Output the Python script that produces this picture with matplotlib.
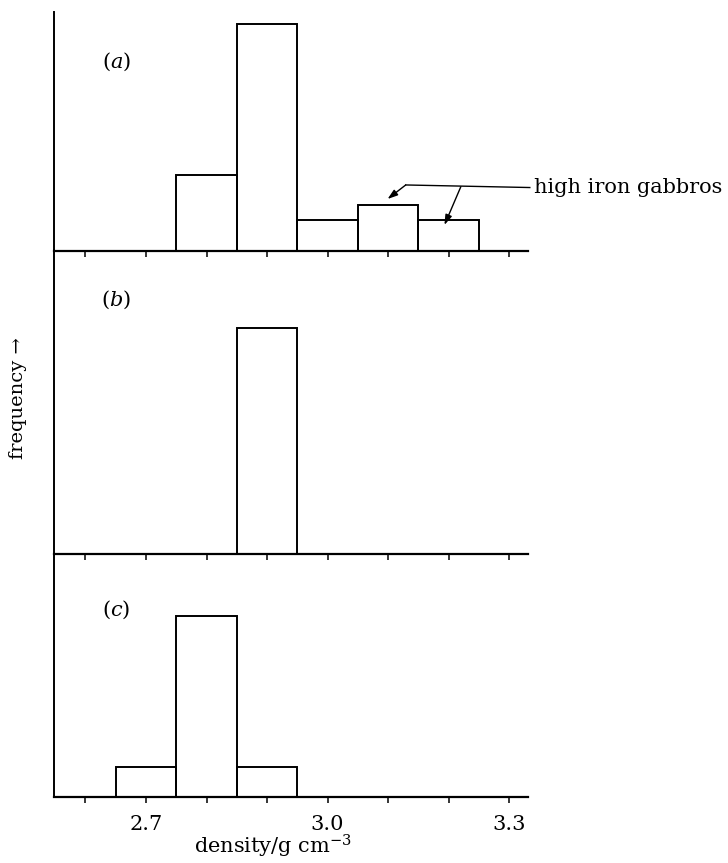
import matplotlib
matplotlib.use('Agg')
import matplotlib.pyplot as plt

# bin centres (g cm^-3) and counts
centers_a = [2.8, 2.9, 3.0, 3.1, 3.2]
counts_a = [5, 15, 2, 3, 2]
centers_b = [2.9]
counts_b = [15]
centers_c = [2.7, 2.8, 2.9]
counts_c = [2, 12, 2]

tick_values = [2.6, 2.7, 2.8, 2.9, 3.0, 3.1, 3.2, 3.3]
tick_labels = ['', '2.7', '', '', '3.0', '', '', '3.3']
panel_labels = ['(a)', '(b)', '(c)']

plt.rcParams['font.family'] = 'DejaVu Serif'
plt.rcParams['mathtext.fontset'] = 'dejavuserif'

W, H = 728, 863
fig = plt.figure(figsize=(W / 100, H / 100), dpi=100)

left = 54 / W
width = (528 - 54) / W
px_per_count = 15.1

# panel extents in pixels (top, baseline)
extents = [(11.7, 250.5), (250.5, 554), (554, 797)]
data = [(centers_a, counts_a), (centers_b, counts_b), (centers_c, counts_c)]
label_y = [61.7, 300, 610]

axes = []
for i, ((top, base), (cx, cy)) in enumerate(zip(extents, data)):
    ax = fig.add_axes([left, (H - base) / H, width, (base - top) / H])
    ax.patch.set_visible(False)
    ax.set_zorder(3 - i)
    ax.bar(cx, cy, width=0.1, fill=False, edgecolor='black', linewidth=1.4)
    ax.set_xlim(2.548, 3.331)
    ax.set_ylim(0, (base - top) / px_per_count)
    for s in ['top', 'right']:
        ax.spines[s].set_visible(False)
    ax.spines['left'].set_linewidth(1.4)
    ax.spines['bottom'].set_linewidth(1.6)
    ax.set_yticks([])
    ax.set_xticks(tick_values)
    ax.tick_params(axis='x', direction='out', length=4, width=1.1, pad=9, labelsize=15)
    if i < 2:
        ax.set_xticklabels([])
    else:
        ax.set_xticklabels(tick_labels)
    ax.text(2.651, (base - label_y[i]) / px_per_count, panel_labels[i][0] + '$' + panel_labels[i][1] + '$' + panel_labels[i][2],
            fontsize=15, ha='center', va='center')
    axes.append(ax)

ax_a = axes[0]
# leader line and arrows for the high iron gabbros
ax_a.plot([3.129, 3.334], [4.34, 4.17], color='black', linewidth=1.0, clip_on=False)
arrow = dict(arrowstyle='-|>,head_length=0.6,head_width=0.2', color='black', linewidth=1.0, shrinkA=0, shrinkB=0)
ax_a.annotate('', xy=(3.099, 3.41), xytext=(3.129, 4.34), arrowprops=arrow, annotation_clip=False)
ax_a.annotate('', xy=(3.193, 1.69), xytext=(3.220, 4.22), arrowprops=arrow, annotation_clip=False)
ax_a.text(3.341, 4.14, 'high iron gabbros', fontsize=15, ha='left', va='center', clip_on=False)

fig.text(273 / W, 1 - 846 / H, 'density/g cm$^{-3}$', fontsize=15, ha='center', va='center')
fig.text(18 / W, 1 - 398 / H, 'frequency \u2192', fontsize=14, rotation=90, ha='center', va='center')

fig.savefig('out.png', dpi=100)
